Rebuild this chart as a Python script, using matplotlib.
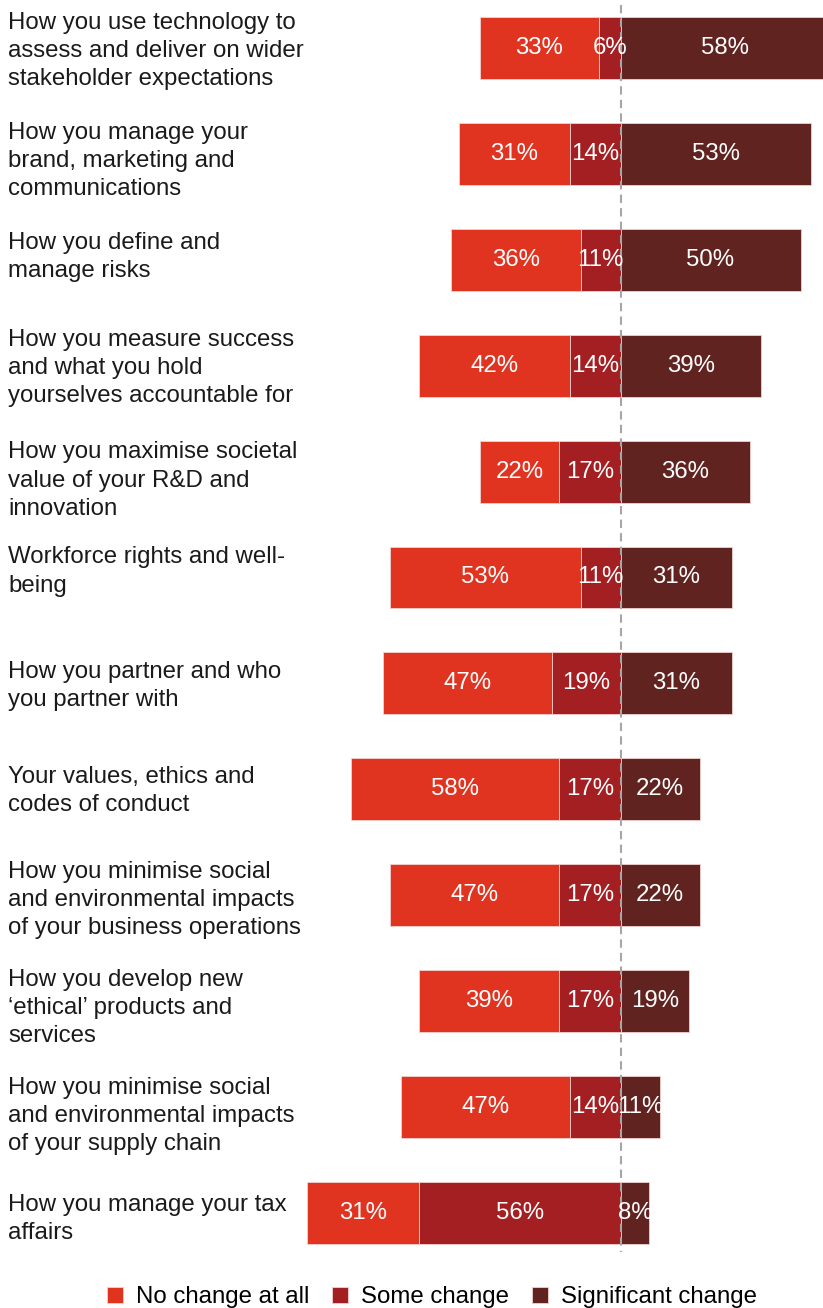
import matplotlib
matplotlib.use("Agg")
import matplotlib.pyplot as plt

plt.rcParams['font.family'] = ['Liberation Sans', 'DejaVu Sans']

categories = [
    "How you use technology to\nassess and deliver on wider\nstakeholder expectations",
    "How you manage your\nbrand, marketing and\ncommunications",
    "How you define and\nmanage risks",
    "How you measure success\nand what you hold\nyourselves accountable for",
    "How you maximise societal\nvalue of your R&D and\ninnovation",
    "Workforce rights and well-\nbeing",
    "How you partner and who\nyou partner with",
    "Your values, ethics and\ncodes of conduct",
    "How you minimise social\nand environmental impacts\nof your business operations",
    "How you develop new\n\u2018ethical\u2019 products and\nservices",
    "How you minimise social\nand environmental impacts\nof your supply chain",
    "How you manage your tax\naffairs",
]
no_change = [33, 31, 36, 42, 22, 53, 47, 58, 47, 39, 47, 31]
some_change = [6, 14, 11, 14, 17, 11, 19, 17, 17, 17, 14, 56]
significant = [58, 53, 50, 39, 36, 31, 31, 22, 22, 19, 11, 8]
series_names = ["No change at all", "Some change", "Significant change"]
colors = ["#E03320", "#A31F22", "#612320"]

# vertical nudge (pixels) of each category label relative to its bar
label_nudge = [3, 7, -3, 2, 9, -6, 3, 2, 5, 7, 9, 6]

W, H = 823, 1308
fig = plt.figure(figsize=(W / 100, H / 100), dpi=100)
ax = fig.add_axes([0, 0, 1, 1])

px_per_pct = 3.6
zero_px = 620.5
row0_px, row_step = 48, 105.9
ax.set_xlim(-zero_px / px_per_pct, (W - zero_px) / px_per_pct)
ax.set_ylim((H - row0_px) / row_step, -row0_px / row_step)
ax.axis("off")

fs = 17.3
ypos = list(range(len(categories)))
bar_h = 0.585

some_left = [-s for s in some_change]
no_left = [-(s + n) for s, n in zip(some_change, no_change)]

edge = dict(edgecolor="#F3D0CC", linewidth=0.6)
b1 = ax.barh(ypos, no_change, left=no_left, height=bar_h, color=colors[0],
             label=series_names[0], **edge)
b2 = ax.barh(ypos, some_change, left=some_left, height=bar_h, color=colors[1],
             label=series_names[1], **edge)
b3 = ax.barh(ypos, significant, left=0, height=bar_h, color=colors[2],
             label=series_names[2], **edge)

# centre reference line
ax.plot([0, 0], [-0.406, 11.37], color="#A6A6A6", lw=1.5,
        ls=(0, (4, 2.5)), zorder=3)

for bars, vals in ((b1, no_change), (b2, some_change), (b3, significant)):
    for rect, v in zip(bars, vals):
        cx = rect.get_x() + rect.get_width() / 2
        cy = rect.get_y() + rect.get_height() / 2
        ax.text(cx, cy, f"{v}%", ha="center", va="center", color="white",
                fontsize=fs, zorder=4)

for i, label in enumerate(categories):
    ypx = row0_px + row_step * i + label_nudge[i]
    ax.text(8 / W, 1 - ypx / H, label,
            transform=fig.transFigure, ha="left", va="center",
            fontsize=fs, color="#1a1a1a", linespacing=1.36)

fig.legend(handles=[b1, b2, b3], labels=series_names, loc="center",
           bbox_to_anchor=(432 / W, 1 - 1297 / H), ncol=3, frameon=False,
           fontsize=fs, handlelength=0.65, handleheight=0.65,
           handletextpad=0.55, columnspacing=0.95, borderpad=0, borderaxespad=0)

fig.savefig("out.png", dpi=100)
